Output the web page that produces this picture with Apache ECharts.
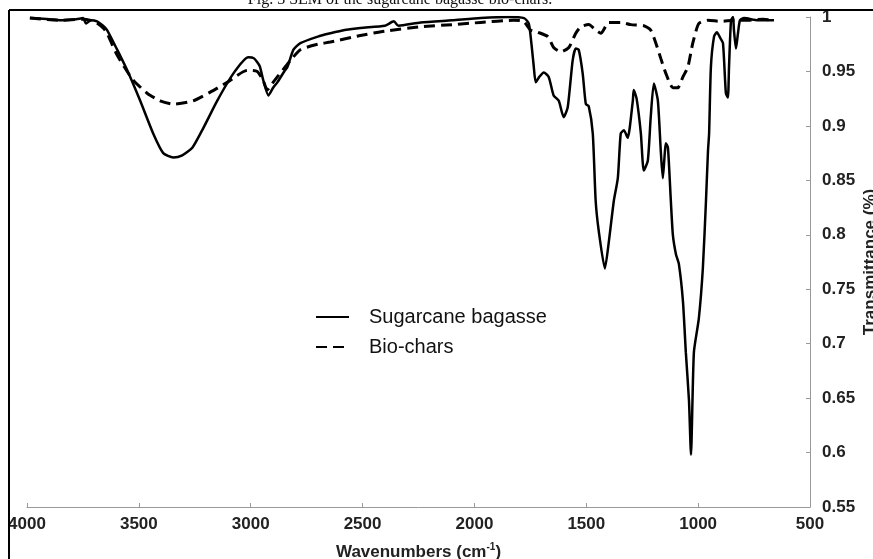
<!DOCTYPE html>
<html>
<head>
<meta charset="utf-8">
<script src="https://cdn.jsdelivr.net/npm/echarts@6/dist/echarts.min.js"></script>
<style>html,body{margin:0;padding:0;background:#fff;}#c{width:873px;height:559px;}</style>
</head>
<body>
<div id="c"></div>
<script>
const titleText = 'Fig. 3 SEM of the sugarcane bagasse bio-chars.';
const seriesNames = ['Sugarcane bagasse', 'Bio-chars'];
const xTicks = [4000, 3500, 3000, 2500, 2000, 1500, 1000, 500];
const yTicks = [1, 0.95, 0.9, 0.85, 0.8, 0.75, 0.7, 0.65, 0.6, 0.55];

const bagasseWave = [3987,3900,3852,3780,3749,3736,3715,3687,3660,3642,3597,3552,3494,3436,3391,3346,3306,3261,3212,3150,3078,3011,2985,2960,2944,2921,2900,2881,2850,2836,2809,2778,2700,2644,2580,2510,2400,2360,2340,2241,2100,1972,1850,1778,1757,1745,1735,1726,1710,1690,1668,1646,1623,1601,1583,1561,1547,1534,1516,1502,1489,1471,1458,1444,1417,1399,1377,1359,1346,1332,1315,1292,1288,1275,1256,1243,1225,1212,1198,1180,1167,1158,1144,1135,1122,1113,1099,1086,1068,1055,1041,1032,1019,997,979,965,956,951,943,929,916,902,889,876,867,862,853,844,840,831,822,813,795,733,661];
const bagasseT = [0.999,0.998,0.997,0.998,0.999,0.994,0.997,0.996,0.992,0.988,0.970,0.951,0.923,0.893,0.875,0.871,0.873,0.880,0.898,0.923,0.948,0.963,0.962,0.955,0.942,0.928,0.935,0.940,0.950,0.954,0.970,0.976,0.982,0.985,0.988,0.990,0.992,0.996,0.992,0.995,0.997,0.999,1.0,0.999,0.994,0.975,0.955,0.940,0.945,0.949,0.945,0.928,0.923,0.908,0.917,0.960,0.971,0.970,0.948,0.920,0.918,0.893,0.831,0.803,0.769,0.794,0.831,0.852,0.893,0.896,0.889,0.923,0.933,0.925,0.893,0.859,0.868,0.908,0.939,0.923,0.877,0.852,0.884,0.880,0.831,0.800,0.782,0.773,0.739,0.692,0.648,0.598,0.692,0.723,0.769,0.831,0.877,0.893,0.954,0.982,0.986,0.981,0.976,0.930,0.926,0.954,0.997,1.0,0.988,0.971,0.985,0.997,0.999,0.997,0.997];

const charWave = [3987,3852,3749,3700,3660,3642,3597,3552,3525,3463,3405,3346,3257,3181,3105,3015,2971,2945,2926,2900,2881,2823,2778,2700,2644,2510,2400,2241,2100,1972,1825,1780,1749,1717,1672,1646,1614,1578,1547,1525,1489,1458,1435,1399,1346,1301,1243,1212,1189,1167,1144,1113,1091,1068,1046,1024,997,956,898,840,777,710,661];
const charT = [0.999,0.997,0.998,0.996,0.990,0.985,0.965,0.950,0.942,0.930,0.923,0.920,0.923,0.931,0.940,0.951,0.950,0.942,0.933,0.940,0.945,0.960,0.970,0.975,0.977,0.983,0.987,0.991,0.993,0.995,0.997,0.996,0.988,0.986,0.982,0.972,0.968,0.972,0.985,0.991,0.993,0.988,0.985,0.995,0.995,0.993,0.992,0.988,0.976,0.962,0.948,0.935,0.935,0.945,0.954,0.976,0.994,0.997,0.996,0.997,0.997,0.998,0.997];

const toPairs = (xs, ys) => xs.map((x, i) => [x, ys[i]]);
const FONT = '"Liberation Sans", Arial, sans-serif';

const chart = echarts.init(document.getElementById('c'), null, {renderer: 'canvas'});
chart.setOption({
  animation: false,
  backgroundColor: '#fff',
  grid: {left: 27, right: 63, top: 17, bottom: 52, containLabel: false, outerBoundsMode: 'none'},
  legend: {
    orient: 'vertical', left: 315, top: 307, padding: 0, itemGap: 10,
    itemWidth: 33, itemHeight: 14,
    itemStyle: {opacity: 0},
    textStyle: {fontFamily: FONT, fontSize: 20, color: '#111', padding: [0, 0, 0, 15]},
    data: seriesNames
  },
  xAxis: {
    type: 'value', inverse: true, min: 500, max: 4000, interval: 500,
    splitLine: {show: false},
    axisLine: {lineStyle: {color: '#999', width: 1}},
    axisTick: {inside: true, length: 4, lineStyle: {color: '#999'}},
    axisLabel: {margin: 9, fontFamily: FONT, fontSize: 17, fontWeight: 'bold', color: '#222',
      formatter: v => xTicks.includes(v) ? String(v) : ''},
    name: '{a|Wavenumbers (cm}{b|-1}{a|)}', nameLocation: 'middle', nameGap: 35, nameMoveOverlap: false,
    nameTextStyle: {rich: {
      a: {fontFamily: FONT, fontSize: 17, fontWeight: 'bold', color: '#222', lineHeight: 20},
      b: {fontFamily: FONT, fontSize: 10, fontWeight: 'bold', color: '#222', verticalAlign: 'top', lineHeight: 12}
    }}
  },
  yAxis: {
    type: 'value', position: 'right', min: 0.55, max: 1, interval: 0.05,
    splitLine: {show: false},
    axisLine: {show: true, lineStyle: {color: '#999', width: 1}},
    axisTick: {show: true, inside: true, length: 4, lineStyle: {color: '#999'}},
    axisLabel: {margin: 12, fontFamily: FONT, fontSize: 17, fontWeight: 'bold', color: '#222',
      formatter: v => { const r = Math.round(v * 100) / 100; return yTicks.includes(r) ? String(r) : ''; }},
    name: 'Transmittance (%)', nameLocation: 'middle', nameGap: 52, nameRotate: 90, nameMoveOverlap: false,
    nameTextStyle: {fontFamily: FONT, fontSize: 17, fontWeight: 'bold', color: '#222'}
  },
  series: [
    {name: seriesNames[0], type: 'line', data: toPairs(bagasseWave, bagasseT), symbol: 'none', showSymbol: false,
     smooth: 0.2, lineStyle: {color: '#000', width: 2.5, type: 'solid'}, itemStyle: {color: '#000'}},
    {name: seriesNames[1], type: 'line', data: toPairs(charWave, charT), symbol: 'none', showSymbol: false,
     smooth: 0.2, lineStyle: {color: '#000', width: 3, type: [11, 6]}, itemStyle: {color: '#000'}}
  ],
  graphic: [
    {type: 'text', z: 100, style: {text: titleText, x: 400, y: 8, textAlign: 'center', textVerticalAlign: 'bottom',
      font: '16px "Liberation Serif", "Times New Roman", serif', fill: '#111'}},
    {type: 'line', z: 100, shape: {x1: 9, y1: 10, x2: 873, y2: 10}, style: {stroke: '#000', lineWidth: 2}},
    {type: 'line', z: 100, shape: {x1: 9, y1: 10, x2: 9, y2: 559}, style: {stroke: '#000', lineWidth: 2}}
  ]
});
</script>
</body>
</html>
